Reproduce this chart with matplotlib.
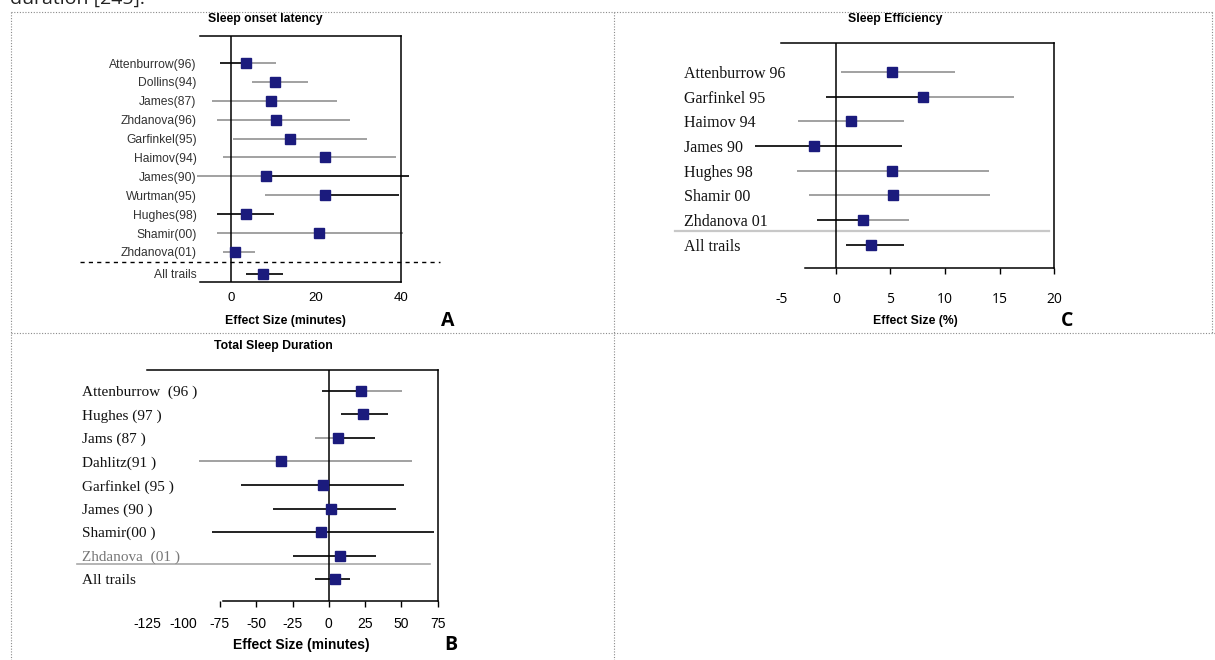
import matplotlib
matplotlib.use("Agg")
import matplotlib.pyplot as plt
from matplotlib.lines import Line2D

plt.rcParams["axes.unicode_minus"] = False

# ---- data ----
A_LABELS = ["Attenburrow(96)", "Dollins(94)", "James(87)", "Zhdanova(96)",
            "Garfinkel(95)", "Haimov(94)", "James(90)", "Wurtman(95)",
            "Hughes(98)", "Shamir(00)", "Zhdanova(01)", "All trails"]
A_EFFECT = [3.5, 10.3, 9.4, 10.7, 13.9, 22.0, 8.2, 22.0, 3.5, 20.6, 0.9, 7.5]
A_LOW = [-2.6, 5.0, -4.5, -3.4, 0.5, -2.0, -8.0, 8.0, -3.2, -3.4, -2.0, 3.5]
A_HIGH = [10.6, 18.0, 24.9, 28.0, 31.9, 38.8, 42.0, 39.5, 10.0, 40.5, 5.6, 12.2]
A_TICKS = [0, 20, 40]

B_LABELS = ["Attenburrow  (96 )", "Hughes (97 )", "Jams (87 )", "Dahlitz(91 )",
            "Garfinkel (95 )", "James (90 )", "Shamir(00 )", "Zhdanova  (01 )",
            "All trails"]
B_EFFECT = [22.3, 23.7, 6.2, -32.6, -3.9, 1.2, -5.7, 7.6, 4.1]
B_LOW = [-5.0, 8.5, -9.2, -89.5, -60.8, -38.3, -80.1, -24.8, -9.6]
B_HIGH = [50.5, 40.6, 31.5, 57.0, 52.1, 46.6, 72.3, 32.2, 14.9]
B_TICKS = [-125, -100, -75, -50, -25, 0, 25, 50, 75]

C_LABELS = ["Attenburrow 96", "Garfinkel 95", "Haimov 94", "James 90",
            "Hughes 98", "Shamir 00", "Zhdanova 01", "All trails"]
C_EFFECT = [5.1, 7.95, 1.35, -2.0, 5.1, 5.2, 2.45, 3.2]
C_LOW = [0.5, -0.9, -3.5, -7.4, -3.55, -2.5, -1.7, 0.9]
C_HIGH = [10.9, 16.3, 6.2, 6.1, 14.0, 14.1, 6.7, 6.2]
C_TICKS = [-5, 0, 5, 10, 15, 20]

# ---- styling ----
W, H = 1215, 660
NAVY = "#1b1b7d"
GR = "#9a9a9a"
K = "#111111"

A_LEFT_COL = [K, GR, GR, GR, GR, GR, GR, GR, K, GR, GR, K]
A_RIGHT_COL = [GR, GR, GR, GR, GR, GR, K, K, K, GR, GR, K]
B_LEFT_COL = [K, K, GR, GR, K, K, K, K, K]
B_RIGHT_COL = [GR, K, K, GR, K, K, K, K, K]
C_LEFT_COL = [GR, K, GR, K, GR, GR, K, K]
C_RIGHT_COL = [GR, GR, GR, K, GR, GR, GR, K]

SANS = "Liberation Sans"
SERIF = "Liberation Serif"


def px_rect(left, top, right, bottom):
    return [left / W, 1 - bottom / H, (right - left) / W, (bottom - top) / H]


def fx(x):
    return x / W


def fy(y):
    return 1 - y / H


def draw_forest(ax, ypos, effect, low, high, left_col, right_col):
    ax.hlines(ypos, low, effect, colors=left_col, lw=1.3, clip_on=False, zorder=2)
    ax.hlines(ypos, effect, high, colors=right_col, lw=1.3, clip_on=False, zorder=2)
    ax.plot(effect, ypos, "s", ms=7, color=NAVY, mec=NAVY, zorder=4, clip_on=False)
    ax.axvline(0, color="k", lw=1.1, zorder=3)
    ax.set_facecolor("none")
    ax.spines["left"].set_visible(False)
    for s in ["top", "right", "bottom"]:
        ax.spines[s].set_linewidth(1.1)


def hide_ticks_below(ax, lower):
    for loc, tick in zip(ax.get_xticks(), ax.xaxis.get_major_ticks()):
        if loc < lower:
            tick.tick1line.set_visible(False)


fig = plt.figure(figsize=(W / 100, H / 100), dpi=100)

# dotted frame of the table
frame = dict(color="#8a8a8a", lw=0.8, ls=(0, (1, 1.5)), transform=fig.transFigure)
fig.add_artist(Line2D([fx(11), fx(1213)], [fy(12), fy(12)], **frame))
fig.add_artist(Line2D([fx(11), fx(1215)], [fy(333), fy(333)], **frame))
fig.add_artist(Line2D([fx(11), fx(11)], [fy(12), fy(660)], **frame))
fig.add_artist(Line2D([fx(614), fx(614)], [fy(12), fy(660)], **frame))
fig.add_artist(Line2D([fx(1212), fx(1212)], [fy(12), fy(333)], **frame))

# cut-off text line above the table
fig.text(fx(10), fy(4), "duration [245].", fontsize=14, family="Open Sans",
         va="baseline", ha="left", color="#222222")

# ---------------- panel A ----------------
axA = fig.add_axes(px_rect(200, 36, 401, 282))
yA = list(range(len(A_LABELS) - 1)) + [len(A_LABELS) - 1 + 0.16]
draw_forest(axA, yA, A_EFFECT, A_LOW, A_HIGH, A_LEFT_COL, A_RIGHT_COL)
axA.set_xlim(-7.3, 40)
axA.set_ylim(11.59, -1.43)
axA.set_yticks(yA, A_LABELS)
axA.tick_params(axis="y", length=0, pad=2.4, labelsize=8.7, labelcolor="#333333")
axA.set_xticks(A_TICKS)
axA.tick_params(axis="x", length=0, pad=7, labelsize=9.5)
for lab in axA.get_xticklabels() + axA.get_yticklabels():
    lab.set_family(SANS)
axA.axhline(10.53, xmin=-0.597, xmax=1.194, color="k", lw=1.0, ls=(0, (3, 3)),
            clip_on=False)
fig.text(fx(265), fy(19), "Sleep onset latency", family=SANS, fontsize=8.8,
         fontweight="bold", ha="center", va="center")
fig.text(fx(285), fy(321), "Effect Size (minutes)", family=SANS, fontsize=8.8,
         fontweight="bold", ha="center", va="center")
fig.text(fx(448), fy(321), "A", family="Open Sans", fontsize=14,
         fontweight="bold", ha="center", va="center")

# ---------------- panel C ----------------
axC = fig.add_axes(px_rect(781.5, 43, 1054, 268))
yC = list(range(len(C_LABELS)))
draw_forest(axC, yC, C_EFFECT, C_LOW, C_HIGH, C_LEFT_COL, C_RIGHT_COL)
axC.set_xlim(-5, 20)
axC.set_ylim(7.94, -1.17)
axC.spines["bottom"].set_bounds(-2.8, 20)
axC.set_yticks(yC, C_LABELS)
axC.tick_params(axis="y", length=0, pad=70.2, labelsize=11.5, labelcolor="#111111")
for lab in axC.get_yticklabels():
    lab.set_ha("left")
    lab.set_family(SERIF)
axC.set_xticks(C_TICKS)
axC.tick_params(axis="x", length=4, width=1.0, pad=13, labelsize=10)
for lab in axC.get_xticklabels():
    lab.set_family("Open Sans")
hide_ticks_below(axC, -2.8)
axC.axhline(6.44, xmin=-0.391, xmax=0.982, color="#c8c8c8", lw=1.6, clip_on=False,
            zorder=1)
fig.text(fx(895), fy(19), "Sleep Efficiency", family=SANS, fontsize=8.8,
         fontweight="bold", ha="center", va="center")
fig.text(fx(915), fy(321), "Effect Size (%)", family=SANS, fontsize=8.8,
         fontweight="bold", ha="center", va="center")
fig.text(fx(1067), fy(321), "C", family="Open Sans", fontsize=14,
         fontweight="bold", ha="center", va="center")

# ---------------- panel B ----------------
axB = fig.add_axes(px_rect(147.3, 370, 437.7, 600.7))
yB = list(range(len(B_LABELS)))
draw_forest(axB, yB, B_EFFECT, B_LOW, B_HIGH, B_LEFT_COL, B_RIGHT_COL)
axB.set_xlim(-125, 75)
axB.set_ylim(8.92, -0.89)
axB.spines["bottom"].set_bounds(-73, 75)
axB.set_yticks(yB, B_LABELS)
axB.tick_params(axis="y", length=0, pad=46.8, labelsize=11, labelcolor="#111111")
for lab in axB.get_yticklabels():
    lab.set_ha("left")
    lab.set_family(SERIF)
axB.get_yticklabels()[7].set_color("#777777")
axB.set_xticks(B_TICKS)
axB.tick_params(axis="x", length=4, width=1.0, pad=8, labelsize=10)
for lab in axB.get_xticklabels():
    lab.set_family(SANS)
hide_ticks_below(axB, -75)
axB.axhline(7.37, xmin=-0.242, xmax=0.973, color="#a8a8a8", lw=1.2, clip_on=False,
            zorder=1)
fig.text(fx(273), fy(345.7), "Total Sleep Duration", family=SANS, fontsize=8.8,
         fontweight="bold", ha="center", va="center")
fig.text(fx(301.7), fy(645), "Effect Size (minutes)", family=SANS, fontsize=10,
         fontweight="bold", ha="center", va="center")
fig.text(fx(450.7), fy(645), "B", family="Open Sans", fontsize=14,
         fontweight="bold", ha="center", va="center")

fig.savefig("out.png", dpi=100)
